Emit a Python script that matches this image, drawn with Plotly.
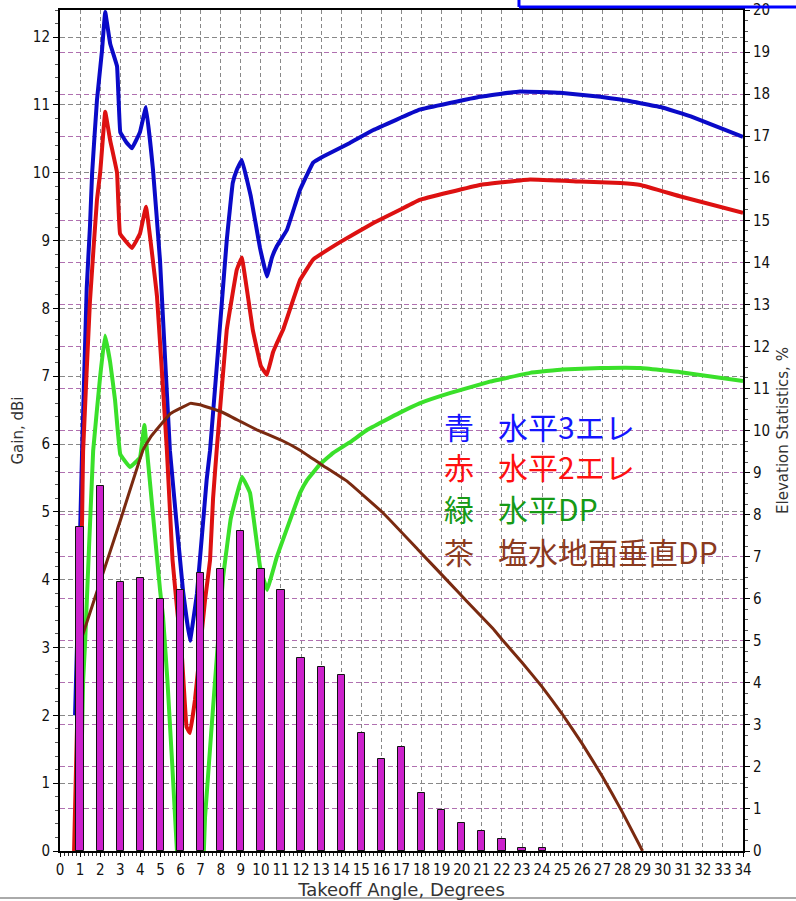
import plotly.graph_objects as go

# ---------------- data ----------------
angles_3ele = [0.75, 1.0, 1.1, 1.33, 1.49, 1.6, 1.84, 2.09, 2.25, 2.5, 2.84, 3.0, 3.3, 3.58, 3.98, 4.28,
               4.63, 4.98, 5.47, 6.12, 6.47, 6.82, 7.3, 7.47, 8.06, 8.3, 8.6, 8.8, 9.05, 9.5, 9.95, 10.3,
               10.55, 10.8, 11.3, 11.95, 12.6, 13.1, 14.43, 15.6, 17.9, 20.9, 22.9, 24.9, 26.9, 27.9,
               29.9, 31.4, 34.0]
gain_3ele = [2.0, 4.7, 5.9, 8.3, 9.2, 10.0, 11.07, 11.8, 12.37, 11.9, 11.57, 10.6, 10.45, 10.36, 10.6, 10.97,
             10.04, 8.7, 5.91, 3.85, 3.1, 3.8, 5.47, 5.91, 8.1, 9.0, 9.85, 10.04, 10.19, 9.65, 8.9, 8.47,
             8.75, 8.92, 9.16, 9.75, 10.15, 10.24, 10.44, 10.63, 10.93, 11.12, 11.2, 11.18, 11.12, 11.08,
             10.97, 10.83, 10.53]

angles_2ele = [0.7, 0.9, 1.1, 1.15, 1.49, 1.84, 2.0, 2.25, 2.49, 2.84, 2.99, 3.58, 3.98, 4.28, 4.83, 5.32,
               5.6, 5.85, 6.06, 6.3, 6.47, 6.72, 6.97, 7.22, 7.47, 7.62, 7.8, 8.3, 8.8, 9.05, 9.6, 10.0,
               10.3, 10.6, 10.8, 11.1, 11.95, 12.6, 13.9, 15.6, 16.9, 17.9, 20.9, 23.4, 25.9, 27.9, 28.9,
               30.9, 34.0]
gain_2ele = [0.0, 2.5, 4.9, 5.9, 8.1, 9.6, 10.0, 10.9, 10.49, 10.0, 9.1, 8.89, 9.1, 9.5, 8.17, 5.91,
             4.3, 3.5, 2.92, 1.83, 1.74, 2.23, 2.96, 3.7, 4.29, 5.2, 5.91, 7.68, 8.57, 8.75, 7.68, 7.15,
             7.02, 7.35, 7.49, 7.68, 8.42, 8.72, 8.97, 9.26, 9.45, 9.6, 9.82, 9.9, 9.87, 9.85, 9.82,
             9.65, 9.41]

angles_dp = [0.9, 1.05, 1.15, 1.25, 1.65, 2.0, 2.24, 2.5, 2.74, 3.0, 3.48, 3.98, 4.2, 4.48, 4.98, 5.13,
             5.35, 5.82, 6.45, 7.05, 7.22, 7.87, 8.12, 8.5, 9.06, 9.46, 9.96, 10.31, 10.8, 11.95, 12.3,
             12.94, 13.6, 14.4, 15.3, 16.9, 17.9, 19.4, 21.4, 23.4, 25.0, 26.9, 28.9, 30.9, 34.0]
gain_dp = [0.0, 1.05, 2.5, 3.07, 5.9, 7.0, 7.6, 7.2, 6.65, 5.85, 5.66, 5.8, 6.28, 5.43, 3.85, 3.45,
           2.5, 0.01, -8.0, -1.0, 0.5, 3.1, 4.04, 4.9, 5.52, 5.28, 4.19, 3.85, 4.34, 5.28, 5.47,
           5.7, 5.87, 6.02, 6.21, 6.46, 6.6, 6.75, 6.92, 7.05, 7.1, 7.12, 7.12, 7.06, 6.93]

angles_vdp = [1.0, 2.0, 3.0, 4.13, 4.5, 5.5, 6.5, 6.97, 8.0, 9.0, 9.8, 11.0, 11.95, 13.0, 14.3, 16.1,
              17.8, 19.4, 20.26, 21.55, 22.0, 23.0, 24.0, 25.0, 26.0, 27.0, 28.0, 29.0]
gain_vdp = [3.07, 3.97, 4.87, 5.91, 6.1, 6.45, 6.6, 6.58, 6.48, 6.33, 6.21, 6.06, 5.91, 5.7, 5.45, 4.98,
            4.45, 3.95, 3.68, 3.28, 3.12, 2.78, 2.42, 2.02, 1.58, 1.1, 0.57, 0.0]

stat_angles = list(range(1, 25))
stat_percent = [7.7, 8.69, 6.4, 6.5, 6.0, 6.21, 6.62, 6.71, 7.6, 6.71, 6.21, 4.6, 4.38, 4.19, 2.8,
                2.19, 2.48, 1.38, 0.98, 0.67, 0.48, 0.29, 0.07, 0.07]

legend_keys = ["青", "赤", "緑", "茶"]
legend_names = ["水平3エレ", "水平2エレ", "水平DP", "塩水地面垂直DP"]

x_title = "Takeoff Angle, Degrees"
y_title = "Gain, dBi"
y2_title = "Elevation Statistics, %"

# ---------------- figure ----------------
TICKFONT = dict(family="Liberation Sans Narrow, DejaVu Sans Condensed, Arial Narrow, sans-serif",
                size=15, color="#111111")
TITLE_FAMILY = "DejaVu Sans, Verdana, sans-serif"

fig = go.Figure()

line_specs = [
    (angles_3ele, gain_3ele, "#0a0ac8", 4),
    (angles_2ele, gain_2ele, "#dd1111", 4),
    (angles_dp, gain_dp, "#3ae02a", 4),
    (angles_vdp, gain_vdp, "#7a2a10", 3),
]
for (xs, ys, col, w), nm in zip(line_specs, legend_names):
    fig.add_trace(go.Scatter(x=xs, y=ys, mode="lines", name=nm,
                             line=dict(color=col, width=w, shape="spline", smoothing=0.2),
                             yaxis="y", showlegend=False))

fig.add_trace(go.Bar(x=stat_angles, y=stat_percent, width=0.36, yaxis="y2",
                     marker=dict(color="#cc22cc", line=dict(color="#111111", width=1)),
                     showlegend=False, name="Elevation Statistics"))

fig.update_layout(
    width=796, height=901,
    margin=dict(l=60, r=53, t=10, b=50, autoexpand=False),
    paper_bgcolor="white", plot_bgcolor="white",
    showlegend=False,
    xaxis=dict(range=[0, 34], dtick=1, tick0=0, showline=True, linecolor="black", linewidth=2,
               mirror=True, ticks="outside", ticklen=4, tickcolor="black", automargin=False,
               showgrid=True, gridcolor="#888888", gridwidth=1, griddash="4px,3px",
               zeroline=False, tickfont=TICKFONT,
               minor=dict(dtick=0.2, ticks="outside", ticklen=3, tickcolor="#333333", showgrid=False),
               title=dict(text=x_title, font=dict(family=TITLE_FAMILY, size=18, color="#333333"),
                          standoff=3)),
    yaxis=dict(range=[0, 12.4], dtick=1, tick0=0, showline=True, linecolor="black", linewidth=2,
               ticks="outside", ticklen=5, tickcolor="black", automargin=False,
               showgrid=True, gridcolor="#888888", gridwidth=1, griddash="5px,3px",
               zeroline=False, tickfont=TICKFONT,
               minor=dict(dtick=0.2, ticks="outside", ticklen=3, tickcolor="#555555", showgrid=False),
               title=dict(text=y_title, font=dict(family=TITLE_FAMILY, size=15, color="#333333"),
                          standoff=6)),
    yaxis2=dict(range=[0, 20], dtick=1, tick0=0, overlaying="y", side="right",
                showline=True, linecolor="black", linewidth=2, automargin=False,
                ticks="outside", ticklen=5, tickcolor="black",
                showgrid=True, gridcolor="#b070b0", gridwidth=1, griddash="5px,3px",
                zeroline=False, tickfont=TICKFONT,
                minor=dict(dtick=0.25, ticks="outside", ticklen=3, tickcolor="#555555", showgrid=False),
                title=dict(text=y2_title, font=dict(family=TITLE_FAMILY, size=15, color="#333333"),
                           standoff=8)),
    bargap=0,
)

# legend text (as annotations)
legend_colors = ["#1414ff", "#ff1010", "#169a16", "#8b3a1e"]
row_y = [0.505, 0.458, 0.408, 0.357]
for key, name, col, yy in zip(legend_keys, legend_names, legend_colors, row_y):
    fig.add_annotation(text=key, x=0.56, y=yy, xref="paper", yref="paper", xanchor="left",
                       yanchor="middle", showarrow=False,
                       font=dict(family="Noto Sans CJK JP", size=30, color=col))
    fig.add_annotation(text=name, x=0.638, y=yy, xref="paper", yref="paper", xanchor="left",
                       yanchor="middle", showarrow=False,
                       font=dict(family="Noto Sans CJK JP", size=30, color=col))

# window decorations (selection rectangle at the top right and window border at the bottom)
fig.add_shape(type="line", xref="paper", yref="paper", x0=0.672, x1=1.08, y0=1.0036, y1=1.0036,
              line=dict(color="#0000ff", width=3))
fig.add_shape(type="line", xref="paper", yref="paper", x0=0.672, x1=0.672, y0=1.0036, y1=1.013,
              line=dict(color="#0000ff", width=3))
fig.add_shape(type="line", xref="paper", yref="paper", x0=-0.09, x1=1.08, y0=-0.0559, y1=-0.0559,
              line=dict(color="#aaaaaa", width=2))

# remove the browser's default page margin so the 796x901 figure fills the window exactly
fig.write_html("out.html", config={"displayModeBar": False},
               post_script="document.body.style.margin='0';")
